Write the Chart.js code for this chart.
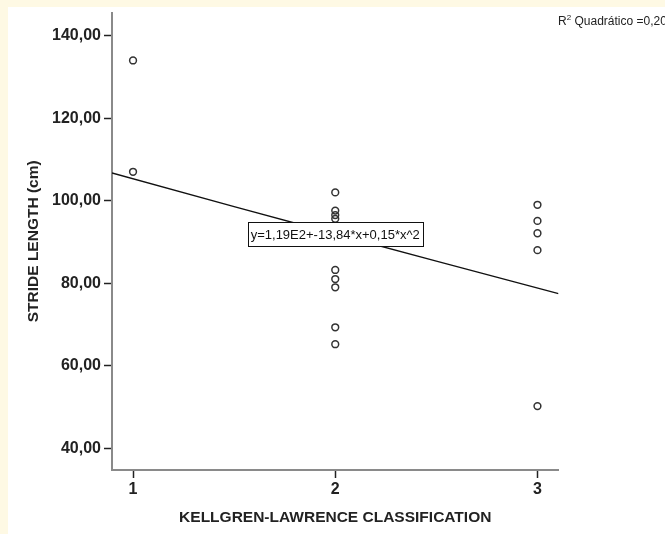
<!DOCTYPE html>
<html>
<head>
<meta charset="utf-8">
<script src="https://cdn.jsdelivr.net/npm/chart.js@4"></script>
<style>
  html, body { margin: 0; padding: 0; background: #fef9e4; }
  #chart { display: block; }
</style>
</head>
<body>
<canvas id="chart" width="665" height="534"></canvas>
<script>
// data
const klGrades = [1, 2, 3]
const strideGrade1 = [134, 107]
const strideGrade2 = [102, 97.6, 96.5, 95.6, 90.1, 83.2, 81, 79, 69.3, 65.2]
const strideGrade3 = [99, 95.1, 92.1, 88, 50.2]
const yTicks = [40, 60, 80, 100, 120, 140]
// quadratic fit shown in the label: y = 1,19E2 + -13,84*x + 0,15*x^2
const fitCoef = [119, -13.84, 0.15]
const fitX = [0.896, 1.5, 2, 2.5, 3.104]
const fitLabel = 'y=1,19E2+-13,84*x+0,15*x^2'
const r2Label = ' Quadrático =0,204'

const FONT = '"Liberation Sans", Arial, sans-serif'

const toPoints = (grade, values) => values.map(v => ({ x: grade, y: v }))
const fitLine = fitX.map(x => ({ x: x, y: fitCoef[0] + fitCoef[1] * x + fitCoef[2] * x * x }))

// background, equation box, R2 text
const extras = {
  id: 'extras',
  beforeDraw(chart) {
    const ctx = chart.ctx
    ctx.save()
    ctx.fillStyle = '#fef9e4'
    ctx.fillRect(0, 0, chart.width, chart.height)
    ctx.fillStyle = '#ffffff'
    ctx.fillRect(8, 7, chart.width - 8, chart.height - 7)
    ctx.restore()
  },
  afterDatasetsDraw(chart) {
    const ctx = chart.ctx
    const xs = chart.scales.x
    const ys = chart.scales.y
    const cx = xs.getPixelForValue(2)
    const cy = ys.getPixelForValue(91.8)
    ctx.save()
    ctx.font = '13px ' + FONT
    const w = ctx.measureText(fitLabel).width + 6
    const h = 24
    ctx.fillStyle = '#ffffff'
    ctx.fillRect(Math.round(cx - w / 2) + 0.5, Math.round(cy - h / 2) + 0.5, Math.round(w), h)
    ctx.strokeStyle = '#111'
    ctx.lineWidth = 1
    ctx.strokeRect(Math.round(cx - w / 2) + 0.5, Math.round(cy - h / 2) + 0.5, Math.round(w), h)
    ctx.fillStyle = '#111'
    ctx.textAlign = 'center'
    ctx.textBaseline = 'middle'
    ctx.fillText(fitLabel, cx, cy + 1)

    // R2 text, top right (runs off the edge like the original)
    ctx.textAlign = 'left'
    ctx.textBaseline = 'alphabetic'
    ctx.fillStyle = '#222'
    ctx.font = '12px ' + FONT
    let x = 558
    ctx.fillText('R', x, 25)
    x += ctx.measureText('R').width
    ctx.font = '8px ' + FONT
    ctx.fillText('2', x, 20)
    x += ctx.measureText('2').width
    ctx.font = '12px ' + FONT
    ctx.fillText(r2Label, x, 25)
    ctx.restore()
  }
}

const config = {
  type: 'scatter',
  data: {
    datasets: [
      {
        label: 'fit',
        data: fitLine,
        showLine: true,
        borderColor: '#111',
        borderWidth: 1.3,
        pointRadius: 0,
        order: 2
      },
      {
        label: 'stride',
        data: [].concat(
          toPoints(klGrades[0], strideGrade1),
          toPoints(klGrades[1], strideGrade2),
          toPoints(klGrades[2], strideGrade3)
        ),
        pointRadius: 3.4,
        pointBorderWidth: 1.5,
        borderColor: '#333',
        backgroundColor: 'rgba(0,0,0,0)',
        order: 1
      }
    ]
  },
  options: {
    responsive: false,
    animation: false,
    layout: { padding: { top: 12, right: 106.5, bottom: 0, left: 0 } },
    plugins: { legend: { display: false }, tooltip: { enabled: false } },
    scales: {
      x: {
        type: 'linear',
        min: 0.896,
        max: 3.104,
        afterBuildTicks: scale => { scale.ticks = klGrades.map(v => ({ value: v })) },
        afterFit: scale => { scale.height = 64 },
        border: { color: '#8a8a8a', width: 2 },
        grid: { drawOnChartArea: false, tickLength: 8, tickColor: '#222', tickWidth: 1.5 },
        ticks: {
          padding: 2,
          color: '#222',
          font: { family: FONT, size: 16, weight: 'bold' },
          callback: v => String(v)
        },
        title: {
          display: true,
          text: 'KELLGREN-LAWRENCE CLASSIFICATION',
          color: '#222',
          font: { family: FONT, size: 15.5, weight: 'bold' },
          padding: { top: 0, bottom: 7 }
        }
      },
      y: {
        min: 34.7,
        max: 145.6,
        afterBuildTicks: scale => { scale.ticks = yTicks.map(v => ({ value: v })) },
        afterFit: scale => { scale.width = 112 },
        border: { color: '#8a8a8a', width: 2 },
        grid: { drawOnChartArea: false, tickLength: 8, tickColor: '#222', tickWidth: 1.5 },
        ticks: {
          padding: 3,
          color: '#222',
          font: { family: FONT, size: 16, weight: 'bold' },
          callback: v => v.toFixed(2).replace('.', ',')
        },
        title: {
          display: true,
          text: 'STRIDE LENGTH (cm)',
          color: '#222',
          font: { family: FONT, size: 15.5, weight: 'bold' },
          padding: { top: 24, bottom: 0 }
        }
      }
    }
  },
  plugins: [extras]
}

const myChart = new Chart(document.getElementById('chart'), config)
</script>
</body>
</html>
